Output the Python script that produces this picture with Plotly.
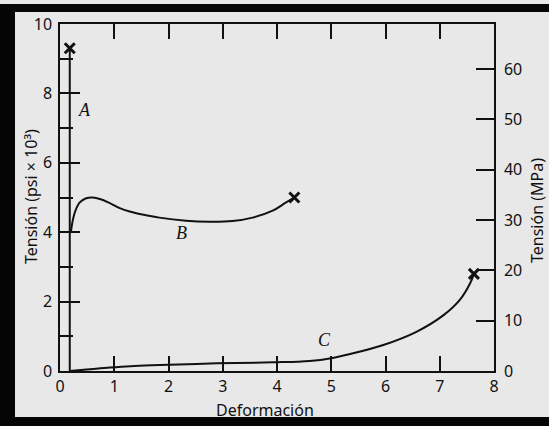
import plotly.graph_objects as go

# Stress-strain curves for three polymers (A: brittle, B: ductile, C: elastomer)
strain_A = [0.18, 0.18]
stress_A = [0.0, 9.3]

strain_B = [0.2, 0.23, 0.28, 0.36, 0.47, 0.6, 0.75, 0.9, 1.09, 1.3, 1.52, 1.83, 2.32, 2.75, 3.18, 3.55, 3.92, 4.16, 4.32]
stress_B = [4.0, 4.3, 4.6, 4.85, 4.97, 5.0, 4.95, 4.85, 4.7, 4.59, 4.51, 4.42, 4.33, 4.3, 4.32, 4.42, 4.62, 4.85, 5.0]

strain_C = [0.18, 0.49, 0.92, 1.3, 1.84, 2.89, 3.93, 4.6, 5.0, 5.35, 5.96, 6.57, 7.07, 7.37, 7.56, 7.63]
stress_C = [0.0, 0.04, 0.1, 0.14, 0.17, 0.22, 0.25, 0.29, 0.37, 0.49, 0.75, 1.13, 1.61, 2.05, 2.53, 2.8]

# Fracture points
break_strain = [0.18, 4.32, 7.63]
break_stress = [9.3, 5.0, 2.8]

curve_names = ["A", "B", "C"]
label_strain = [0.46, 2.24, 4.88]
label_stress = [7.52, 3.99, 0.89]

x_ticks = [0, 1, 2, 3, 4, 5, 6, 7, 8]
psi_ticks = [0, 2, 4, 6, 8, 10]
mpa_ticks = [0, 10, 20, 30, 40, 50, 60]
KSI_TO_MPA = 6.895

INK = "#111111"
BG = "#e8e8e8"
SANS = "Noto Sans"

fig = go.Figure()
for sx, sy in [(strain_A, stress_A), (strain_B, stress_B), (strain_C, stress_C)]:
    fig.add_trace(go.Scatter(x=sx, y=sy, mode="lines",
                             line=dict(color=INK, width=2, shape="spline", smoothing=1.0),
                             showlegend=False, hoverinfo="skip"))
fig.add_trace(go.Scatter(x=break_strain, y=break_stress, mode="markers",
                         marker=dict(symbol="x-thin", size=10, line=dict(color=INK, width=3)),
                         showlegend=False, hoverinfo="skip"))
# dummy trace to activate the MPa axis
fig.add_trace(go.Scatter(x=[None], y=[None], yaxis="y2", showlegend=False, hoverinfo="skip"))

for name, lx, ly in zip(curve_names, label_strain, label_stress):
    fig.add_annotation(x=lx, y=ly, text=f"<i>{name}</i>", showarrow=False,
                       font=dict(family="Liberation Serif", size=18, color=INK))

W, H = 549, 426
L, R, T, B = 60, 55, 24, 55
pw, ph = W - L - R, H - T - B

def px(xp):
    return (xp - L) / pw

def py(yp):
    return (H - B - yp) / ph

title_font = dict(family=SANS, size=16, color=INK)
fig.add_annotation(x=px(31), y=py(197), xref="paper", yref="paper", text="Tensión (psi × 10³)",
                   textangle=-90, showarrow=False, xanchor="center", yanchor="middle", font=title_font)
fig.add_annotation(x=px(537), y=py(211), xref="paper", yref="paper", text="Tensión (MPa)",
                   textangle=-90, showarrow=False, xanchor="center", yanchor="middle", font=title_font)
fig.add_annotation(x=px(265), y=py(410), xref="paper", yref="paper", text="Deformación",
                   showarrow=False, xanchor="center", yanchor="middle", font=title_font)

# dark frame around the figure
frame = dict(type="rect", xref="paper", yref="paper", fillcolor="#050505", line=dict(width=0), layer="above")
fig.add_shape(**frame, x0=px(0), x1=px(15), y0=py(426), y1=py(4))
fig.add_shape(**frame, x0=px(0), x1=px(549), y0=py(12), y1=py(4))
fig.add_shape(**frame, x0=px(0), x1=px(549), y0=py(426), y1=py(417))

axis_common = dict(showgrid=False, zeroline=False, showline=True, linecolor=INK, linewidth=1.5,
                   tickcolor=INK, tickwidth=1.5, ticks="inside",
                   tickfont=dict(family=SANS, size=16, color=INK))

fig.update_layout(
    width=W, height=H,
    margin=dict(l=L, r=R, t=T, b=B),
    paper_bgcolor=BG, plot_bgcolor=BG,
    xaxis=dict(**axis_common, range=[0, 8], tickvals=x_ticks, ticklen=15, mirror="ticks",
               ticklabelstandoff=0),
    yaxis=dict(**axis_common, range=[0, 10], tickvals=psi_ticks, ticklen=20, ticklabelstandoff=3,
               minor=dict(ticks="inside", ticklen=13, dtick=1, tickcolor=INK, tickwidth=1.5)),
    yaxis2=dict(**axis_common, overlaying="y", side="right", anchor="x",
                range=[0, 10 * KSI_TO_MPA], tickvals=mpa_ticks, ticklen=18, ticklabelstandoff=5),
)

fig.write_html("out.html")
